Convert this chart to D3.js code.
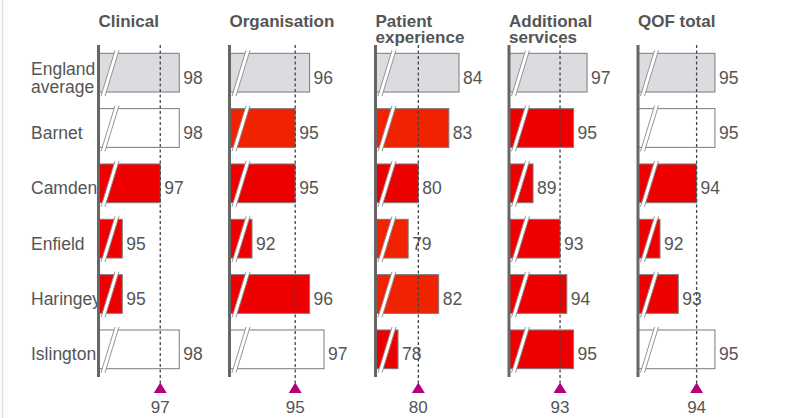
<!DOCTYPE html>
<html>
<head>
<meta charset="utf-8">
<script src="https://cdn.jsdelivr.net/npm/d3@7"></script>
<style>
  html, body { margin: 0; padding: 0; background: #fff; }
  svg { display: block; font-family: "Liberation Sans", Arial, Helvetica, sans-serif; }
</style>
</head>
<body>
<svg id="chart" width="795" height="418"></svg>
<script>
// Areas shown down the side
const categories = ["England average", "Barnet", "Camden", "Enfield", "Haringey", "Islington"];

// Domain titles (one panel each)
const panelTitles = [["Clinical"], ["Organisation"], ["Patient", "experience"], ["Additional", "services"], ["QOF total"]];

// Achievement scores per domain, in category order
const clinical     = [98, 98, 97, 95, 95, 98];
const organisation = [96, 95, 95, 92, 96, 97];
const patientExp   = [84, 83, 80, 79, 82, 78];
const additional   = [97, 95, 89, 93, 94, 95];
const qofTotal     = [95, 95, 94, 92, 93, 95];

// London average per domain (marked by the dashed line and triangle)
const londonAverage = [97, 95, 80, 93, 94];

// Rating of each bar: national figure, above London, below, well below
const clinicalRating     = ["nat", "above", "well", "well", "well", "above"];
const organisationRating = ["nat", "below", "well", "well", "well", "above"];
const patientRating      = ["nat", "below", "well", "below", "below", "well"];
const additionalRating   = ["nat", "well", "well", "well", "well", "well"];
const qofRating          = ["nat", "above", "well", "well", "well", "above"];

const panelValues  = [clinical, organisation, patientExp, additional, qofTotal];
const panelRatings = [clinicalRating, organisationRating, patientRating, additionalRating, qofRating];

// Each panel uses a truncated axis (hence the break marks on the bars)
const panelLayout = [
  { axisX: 98.5,  domain: [93.75, 99.013] },
  { axisX: 229.5, domain: [90.44, 97.38] },
  { axisX: 375.5, domain: [75.79, 85.62] },
  { axisX: 509,   domain: [85.44, 100.25] },
  { axisX: 638,   domain: [90.8, 96.26] }
];
const panelWidth = 100;

const fillFor = { nat: "#dcdce0", above: "#ffffff", below: "#f02200", well: "#ee0000" };
const textColor = "#555";

const svg = d3.select("#chart");

// faint frame edge on the left
svg.append("line")
  .attr("x1", 2.5).attr("x2", 2.5).attr("y1", 0).attr("y2", 418)
  .attr("stroke", "#dddddd").attr("stroke-width", 1.5);

const axisTop = 45, axisBottom = 377;
const y = d3.scaleBand()
  .domain(categories)
  .range([axisTop, axisBottom])
  .paddingInner(0.3)
  .paddingOuter(0.15);

// Row labels
const labels = svg.append("g").attr("fill", textColor).attr("font-size", 17.5);
categories.forEach(c => {
  const words = c === "England average" ? ["England", "average"] : [c];
  const mid = y(c) + y.bandwidth() / 2;
  const t = labels.append("text").attr("x", 31);
  words.forEach((w, i) => {
    t.append("tspan")
      .attr("x", 31)
      .attr("y", mid + 11 - (words.length - 1) * 9 + i * 18)
      .text(w);
  });
});

panelLayout.forEach((p, pi) => {
  const x = d3.scaleLinear().domain(p.domain).range([p.axisX, p.axisX + panelWidth]);
  const vals = panelValues[pi];
  const rating = panelRatings[pi];
  const g = svg.append("g");

  // Title
  const title = g.append("text")
    .attr("fill", textColor)
    .attr("font-size", 17)
    .attr("font-weight", "bold");
  panelTitles[pi].forEach((line, i) => {
    title.append("tspan").attr("x", p.axisX).attr("y", 27 + i * 15.5).text(line);
  });

  // Bars
  categories.forEach((c, i) => {
    const y0 = y(c), h = y.bandwidth();
    const xEnd = x(vals[i]);
    g.append("rect")
      .attr("x", x(p.domain[0]))
      .attr("y", y0)
      .attr("width", xEnd - x(p.domain[0]))
      .attr("height", h)
      .attr("fill", fillFor[rating[i]])
      .attr("stroke", "#7a7a7a")
      .attr("stroke-width", 1);

    // break mark across the bar
    const ax = x(p.domain[0]);
    const yt = y0 - 3, yb = y0 + h + 4;
    const pts = [[ax + 2.5, yb], [ax + 6.5, yb], [ax + 20.5, yt], [ax + 16.5, yt]];
    g.append("polygon")
      .attr("points", pts.map(d => d.join(",")).join(" "))
      .attr("fill", "#ffffff");
    g.append("line")
      .attr("x1", pts[0][0]).attr("y1", pts[0][1]).attr("x2", pts[3][0]).attr("y2", pts[3][1])
      .attr("stroke", "#8a8a8a").attr("stroke-width", 0.9);
    g.append("line")
      .attr("x1", pts[1][0]).attr("y1", pts[1][1]).attr("x2", pts[2][0]).attr("y2", pts[2][1])
      .attr("stroke", "#8a8a8a").attr("stroke-width", 0.9);

    // value label
    g.append("text")
      .attr("x", xEnd + 4)
      .attr("y", y0 + h / 2 + 11)
      .attr("fill", textColor)
      .attr("font-size", 17.5)
      .text(vals[i]);
  });

  // London average marker
  const ax = x(londonAverage[pi]);
  g.append("line")
    .attr("x1", ax).attr("x2", ax)
    .attr("y1", axisTop).attr("y2", 383)
    .attr("stroke", "#444")
    .attr("stroke-width", 1.3)
    .attr("stroke-dasharray", "3,2.5");
  g.append("path")
    .attr("d", d3.line()([[ax, 382.5], [ax + 6.5, 393], [ax - 6.5, 393]]) + "Z")
    .attr("fill", "#b4007c");
  g.append("text")
    .attr("x", ax)
    .attr("y", 413)
    .attr("text-anchor", "middle")
    .attr("fill", textColor)
    .attr("font-size", 17)
    .text(londonAverage[pi]);

  // vertical axis line drawn on top
  g.append("line")
    .attr("x1", p.axisX).attr("x2", p.axisX)
    .attr("y1", axisTop).attr("y2", axisBottom)
    .attr("stroke", "#666")
    .attr("stroke-width", 3);
});
</script>
</body>
</html>
